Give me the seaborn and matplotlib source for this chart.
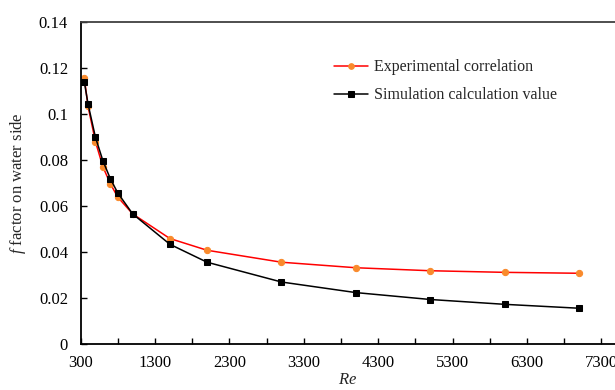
import matplotlib
matplotlib.use("Agg")
import matplotlib.pyplot as plt
import seaborn as sns
import pandas as pd

# Data
re_exp = [350, 400, 500, 600, 700, 800, 1000, 1500, 2000, 3000, 4000, 5000, 6000, 7000]
f_exp = [0.1159, 0.1035, 0.0881, 0.0772, 0.0698, 0.0640, 0.0567, 0.0460, 0.0409,
         0.0357, 0.0333, 0.0320, 0.0313, 0.0309]
re_sim = [350, 400, 500, 600, 700, 800, 1000, 1500, 2000, 3000, 4000, 5000, 6000, 7000]
f_sim = [0.1142, 0.1045, 0.0900, 0.0798, 0.0720, 0.0658, 0.0567, 0.0435, 0.0357,
         0.0271, 0.0225, 0.0195, 0.0174, 0.0157]
x_ticks = [300, 1300, 2300, 3300, 4300, 5300, 6300, 7300]
y_ticks = [0, 0.02, 0.04, 0.06, 0.08, 0.1, 0.12, 0.14]
y_tick_labels = ["0", "0.02", "0.04", "0.06", "0.08", "0.1", "0.12", "0.14"]

sns.set_style("ticks")
plt.rcParams["font.family"] = ["Liberation Serif", "DejaVu Serif"]
plt.rcParams["mathtext.fontset"] = "custom"
plt.rcParams["mathtext.rm"] = "Liberation Serif"
plt.rcParams["mathtext.it"] = "Liberation Serif:italic"

df_exp = pd.DataFrame({"Re": re_exp, "f": f_exp})
df_sim = pd.DataFrame({"Re": re_sim, "f": f_sim})

fig = plt.figure(figsize=(6.15, 3.9), dpi=100)
ax = fig.add_axes([0.131, 0.117, 0.870, 0.826])

sns.lineplot(data=df_exp, x="Re", y="f", ax=ax, color="#FF0000", linewidth=1.1,
             marker="o", markersize=4.5, markerfacecolor="#F98A2C",
             markeredgecolor="#F98A2C", label="Experimental correlation")
sns.lineplot(data=df_sim, x="Re", y="f", ax=ax, color="#000000", linewidth=1.1,
             marker="s", markersize=4.3, markerfacecolor="#000000",
             markeredgecolor="#000000", label="Simulation calculation value")

ax.set_xlim(300, 7490)
ax.set_ylim(0, 0.14)
ax.set_xticks(x_ticks)
ax.set_xticks([800, 1800, 2800, 3800, 4800, 5800, 6800], minor=True)
ax.set_yticks(y_ticks)
ax.set_yticklabels(y_tick_labels)
ax.tick_params(axis="both", which="both", direction="in", length=4.5, width=1.0,
               labelsize=12, colors="black")
ax.tick_params(axis="x", pad=8)
ax.tick_params(axis="y", pad=9)

for side in ["left", "bottom", "top"]:
    ax.spines[side].set_linewidth(1.3)
    ax.spines[side].set_color("black")
ax.spines["top"].set_color("#404040")
ax.spines["right"].set_visible(False)

ax.set_xlabel(r"$Re$", fontsize=12, labelpad=0.5)
ax.set_ylabel(r"$f$ factor on water side", fontsize=12, labelpad=8)

leg = ax.legend(loc="upper left", bbox_to_anchor=(0.446, 0.93), frameon=False,
                fontsize=11.5, handlelength=2.15, handletextpad=0.35, labelspacing=0.75,
                markerscale=0.9)

fig.savefig("out.png", dpi=100)
